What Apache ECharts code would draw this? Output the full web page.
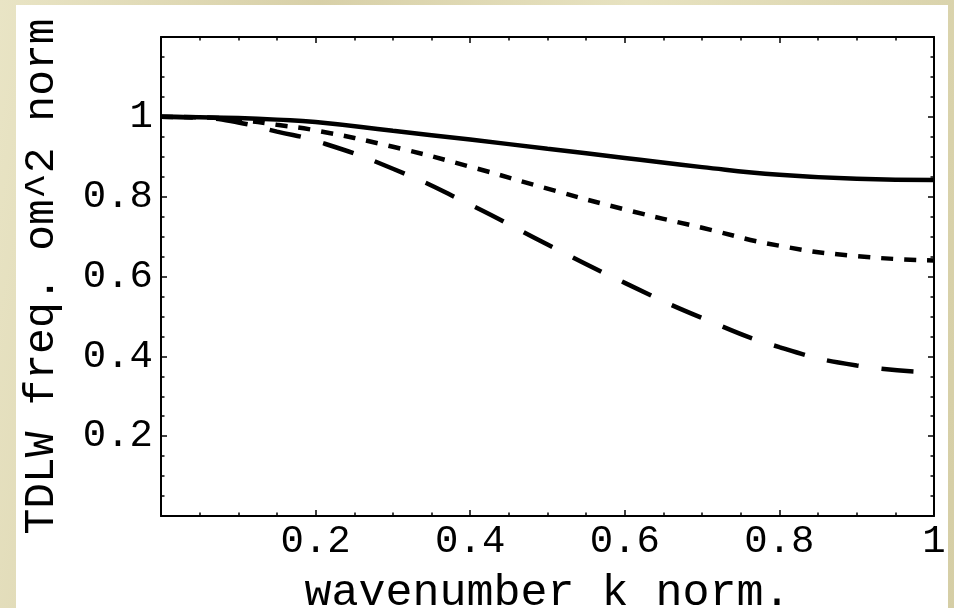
<!DOCTYPE html>
<html>
<head>
<meta charset="utf-8">
<script src="https://cdn.jsdelivr.net/npm/echarts@6/dist/echarts.min.js"></script>
<style>
html, body { margin: 0; padding: 0; }
body {
    width: 954px; height: 608px;
    background-color: #ddd6ae;
    background-image:
        linear-gradient(100deg, rgba(255,255,240,0.35) 0%, rgba(200,190,150,0.25) 30%, rgba(255,255,235,0.3) 60%, rgba(190,182,140,0.25) 100%);
}
#main { width: 954px; height: 608px; }
</style>
</head>
<body>
<div id="main"></div>
<script>
// wavenumber k (normalised)
var kVals = [0, 0.05, 0.1, 0.15, 0.2, 0.3, 0.4, 0.5, 0.6, 0.7, 0.8, 0.9, 1.0];
// solid line
var solidVals = [1.0, 0.999, 0.997, 0.993, 0.987, 0.965, 0.943, 0.92, 0.897, 0.874, 0.855, 0.845, 0.842];
// short dashed line
var shortVals = [1.0, 0.999, 0.992, 0.98, 0.966, 0.925, 0.875, 0.82, 0.768, 0.722, 0.677, 0.651, 0.64];
// long dashed line
var longVals = [1.0, 0.998, 0.986, 0.963, 0.94, 0.87, 0.78, 0.68, 0.584, 0.496, 0.423, 0.377, 0.36];

var xTicks = [0.2, 0.4, 0.6, 0.8, 1];
var yTicks = [0.2, 0.4, 0.6, 0.8, 1];

var monoFont = '"Liberation Mono", "Courier New", "DejaVu Sans Mono", monospace';

function pairs(vals) {
    var out = [];
    for (var i = 0; i < kVals.length; i++) {
        out.push([kVals[i], vals[i]]);
    }
    return out;
}

// only the listed values get a label (no 0, no 1.2)
function tickLabel(list) {
    return function (v) {
        for (var i = 0; i < list.length; i++) {
            if (Math.abs(list[i] - v) < 1e-6) return String(list[i]);
        }
        return '';
    };
}

var lineAxis = { show: true, onZero: false, lineStyle: { color: '#000', width: 2 } };
var majorTick = { show: true, inside: true, length: 6, lineStyle: { color: '#000', width: 1.5 } };
var minorTick = { show: true, splitNumber: 4, length: 3.5, lineStyle: { color: '#000', width: 1.5 } };

var myChart = echarts.init(document.getElementById('main'));
var option = {
    backgroundColor: 'transparent',
    animation: false,
    graphic: [{
        type: 'rect', z: -10, silent: true,
        shape: { x: 16, y: 5, width: 932, height: 610 },
        style: { fill: '#fff' }
    }],
    grid: { left: 161, top: 37, right: 20, bottom: 92, containLabel: false, outerBoundsMode: 'none' },
    xAxis: [{
        type: 'value', min: 0, max: 1, interval: 0.2, position: 'bottom',
        axisLine: lineAxis, axisTick: majorTick, minorTick: minorTick,
        splitLine: { show: false },
        axisLabel: { formatter: tickLabel(xTicks), color: '#000', fontFamily: monoFont, fontSize: 39, margin: 6 },
        name: 'wavenumber k norm.', nameLocation: 'middle', nameGap: 55,
        nameTextStyle: { color: '#000', fontFamily: monoFont, fontSize: 45 }
    }, {
        type: 'value', min: 0, max: 1, interval: 0.2, position: 'top',
        axisLine: lineAxis, axisTick: majorTick, minorTick: minorTick,
        splitLine: { show: false }, axisLabel: { show: false }
    }],
    yAxis: [{
        type: 'value', min: 0, max: 1.2, interval: 0.2, position: 'left',
        axisLine: lineAxis, axisTick: majorTick, minorTick: minorTick,
        splitLine: { show: false },
        axisLabel: { formatter: tickLabel(yTicks), color: '#000', fontFamily: monoFont, fontSize: 39, margin: 8 },
        name: 'TDLW freq. om^2 norm', nameLocation: 'middle', nameGap: 98, nameRotate: 90,
        nameTextStyle: { color: '#000', fontFamily: monoFont, fontSize: 43 }
    }, {
        type: 'value', min: 0, max: 1.2, interval: 0.2, position: 'right',
        axisLine: lineAxis, axisTick: majorTick, minorTick: minorTick,
        splitLine: { show: false }, axisLabel: { show: false }
    }],
    series: [{
        name: 'solid', type: 'line', smooth: true, showSymbol: false,
        data: pairs(solidVals),
        lineStyle: { color: '#000', width: 4.5, type: 'solid' }
    }, {
        name: 'short dash', type: 'line', smooth: true, showSymbol: false,
        data: pairs(shortVals),
        lineStyle: { color: '#000', width: 4.5, type: [12, 11] }
    }, {
        name: 'long dash', type: 'line', smooth: true, showSymbol: false,
        data: pairs(longVals),
        lineStyle: { color: '#000', width: 4.5, type: [32, 23] }
    }]
};
myChart.setOption(option);
</script>
</body>
</html>
